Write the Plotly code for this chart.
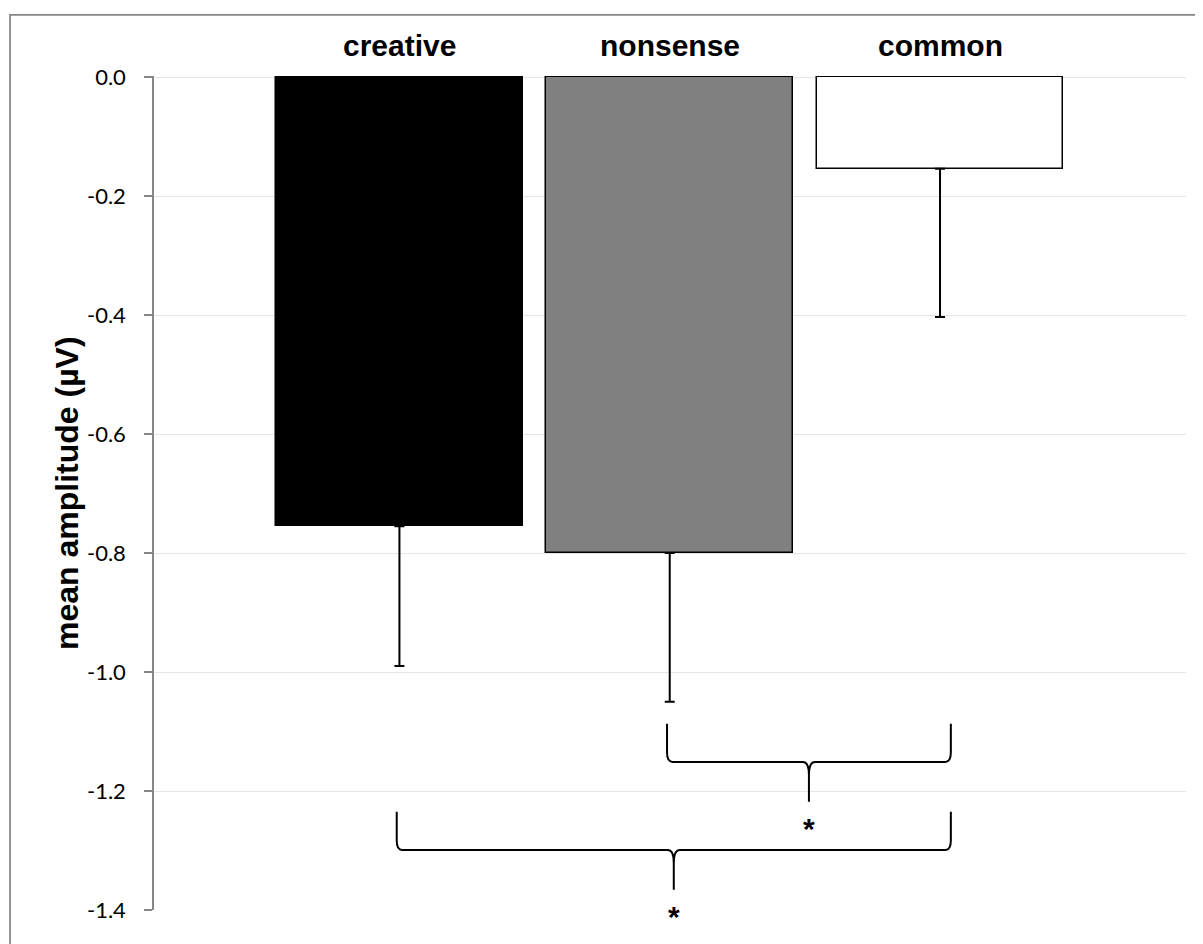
import plotly.graph_objects as go

# ---- data ----
categories = ["creative", "nonsense", "common"]
means = [-0.755, -0.800, -0.154]
errors = [0.235, 0.250, 0.249]
bar_colors = ["#000000", "#808080", "#ffffff"]
tick_values = [0.0, -0.2, -0.4, -0.6, -0.8, -1.0, -1.2, -1.4]
tick_labels = [f"{v:.1f}" for v in tick_values]
# significance comparisons: (from category index, to category index, top level of brace)
comp_from = [1, 0]
comp_to = [2, 2]
comp_level = [-1.087, -1.235]
comp_label = ["*", "*"]

xpos = list(range(len(categories)))

fig = go.Figure()
fig.add_trace(go.Bar(
    x=xpos, y=means, width=0.913, cliponaxis=False,
    marker=dict(color=bar_colors, line=dict(color="#000000", width=1.5)),
    error_y=dict(type="data", symmetric=False, array=[0] * len(errors), arrayminus=errors,
                 color="#000000", thickness=2, width=5),
    showlegend=False, hoverinfo="skip",
))

shapes = []
annotations = []

# braces
rx, ry = 0.02, 0.016      # corner curvature (data units)
tx, ty = 0.022, 0.022     # tip curvature
drop_h, drop_tip = 0.064, 0.067
for f, t, top, lab in zip(comp_from, comp_to, comp_level, comp_label):
    x0 = f - 0.01
    x1 = t + 0.04
    xc = (x0 + x1) / 2
    yh = top - drop_h
    yb = yh - drop_tip
    path = (
        f"M {x0},{top} L {x0},{yh + ry} Q {x0},{yh} {x0 + rx},{yh} "
        f"L {xc - tx},{yh} Q {xc},{yh} {xc},{yh - ty} L {xc},{yb} "
        f"M {xc},{yh - ty} Q {xc},{yh} {xc + tx},{yh} "
        f"L {x1 - rx},{yh} Q {x1},{yh} {x1},{yh + ry} L {x1},{top}"
    )
    shapes.append(dict(type="path", path=path, xref="x", yref="y",
                       line=dict(color="#000000", width=2)))
    annotations.append(dict(x=xc, y=yb, xref="x", yref="y", text=f"<b>{lab}</b>", showarrow=False,
                            yanchor="middle", yshift=-27,
                            font=dict(family="Liberation Sans", size=30, color="#000000")))

# outer chart border
shapes.append(dict(type="rect", xref="paper", yref="paper",
                   x0=-0.1395, x1=1.03, y0=-0.06, y1=1.0732,
                   line=dict(color="#868686", width=1.75), layer="below"))

# category labels on top
for xi, c in zip(xpos, categories):
    annotations.append(dict(x=xi, y=1.0364, xref="x", yref="paper", text=f"<b>{c}</b>",
                            showarrow=False, yanchor="middle",
                            font=dict(family="Liberation Sans", size=30, color="#000000")))

# y-axis title
annotations.append(dict(x=-0.0843, y=0.5, xref="paper", yref="paper",
                        text="<b>mean amplitude (µV)</b>", textangle=-90, showarrow=False,
                        xanchor="center", yanchor="middle",
                        font=dict(family="Liberation Sans", size=32, color="#000000")))

fig.update_layout(
    width=1203, height=944,
    margin=dict(l=146, r=25, t=68, b=42),
    paper_bgcolor="#ffffff", plot_bgcolor="#ffffff",
    shapes=shapes, annotations=annotations,
    bargap=0,
)
fig.update_xaxes(range=[-0.908, 2.910], showticklabels=False, showgrid=False,
                 zeroline=False, showline=False, ticks="")
fig.update_yaxes(range=[-1.4, 0.002], tickvals=tick_values, ticktext=tick_labels,
                 showgrid=True, gridcolor="#e6e6e6", gridwidth=1.2,
                 zeroline=False, showline=True, linecolor="#868686", linewidth=1.5,
                 ticks="outside", ticklen=8, tickcolor="#868686", tickwidth=1.5,
                 ticklabelstandoff=14,
                 tickfont=dict(family="Lato", size=22, color="#000000"))

fig.write_html("out.html")
